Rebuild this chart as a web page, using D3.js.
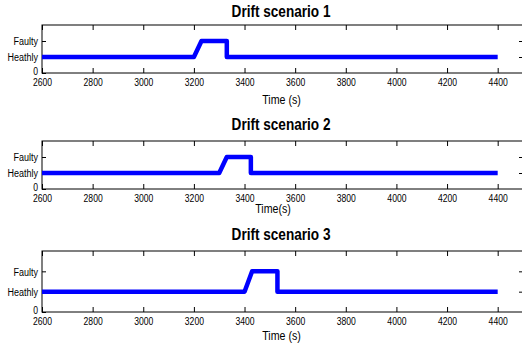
<!DOCTYPE html>
<html><head><meta charset="utf-8">
<script src="https://cdn.jsdelivr.net/npm/d3@7"></script>
<style>body{margin:0;background:#fff}svg{display:block}</style>
</head><body>
<svg id="c" width="522" height="354"></svg>
<script>
// ---- data ----
const titles = ["Drift scenario 1", "Drift scenario 2", "Drift scenario 3"];
const xLabels = ["Time (s)", "Time(s)", "Time (s)"];
const xTicks = [2600, 2800, 3000, 3200, 3400, 3600, 3800, 4000, 4200, 4400];
const yTickValues = [0, 1, 2];
const yTickLabels = ["0", "Heathly", "Faulty"];
const time1 = [2600, 3200, 3230, 3330, 3330, 4400];
const state1 = [1, 1, 2, 2, 1, 1];
const time2 = [2600, 3300, 3330, 3425, 3425, 4400];
const state2 = [1, 1, 2, 2, 1, 1];
const time3 = [2600, 3400, 3430, 3530, 3530, 4400];
const state3 = [1, 1, 2, 2, 1, 1];
const series = [[time1, state1], [time2, state2], [time3, state3]];

// ---- layout ----
const svg = d3.select("#c");
const left = 42, right = 523;
const panels = [
  {top: 25, bottom: 73, titleY: 17, labelY: 104, labelX: 281.5},
  {top: 141, bottom: 189, titleY: 130, labelY: 213, labelX: 273},
  {top: 251, bottom: 312, titleY: 240, labelY: 339.5, labelX: 281.5}
];
const SX = 0.82;
const font = "'Liberation Sans', Arial, sans-serif";

const x = d3.scaleLinear().domain([2600, 4500]).range([left, right]);

panels.forEach((p, i) => {
  const y = d3.scaleLinear().domain([0, 3]).range([p.bottom, p.top]);
  const g = svg.append("g");

  // frame
  g.append("rect").attr("x", left).attr("y", p.top)
    .attr("width", right - left).attr("height", p.bottom - p.top)
    .attr("fill", "none").attr("stroke", "#000").attr("stroke-width", 1);

  // bottom axis (inward ticks)
  const xb = g.append("g").attr("transform", `translate(0,${p.bottom})`)
    .call(d3.axisBottom(x).tickValues(xTicks).tickSize(-5).tickPadding(0).tickFormat(d3.format("d")));
  xb.select(".domain").remove();
  xb.selectAll("line").attr("stroke", "#000");
  xb.selectAll("text").attr("y", 13).attr("dy", null)
    .attr("transform", `scale(${SX},1)`)
    .attr("font-family", font).attr("font-size", 10.5).attr("fill", "#000");

  // top axis ticks
  const xt = g.append("g").attr("transform", `translate(0,${p.top})`)
    .call(d3.axisTop(x).tickValues(xTicks).tickSize(-5).tickFormat(""));
  xt.select(".domain").remove();
  xt.selectAll("line").attr("stroke", "#000");

  // left axis
  const yl = g.append("g").attr("transform", `translate(${left},0)`)
    .call(d3.axisLeft(y).tickValues(yTickValues).tickSize(-4)
      .tickFormat((d, k) => yTickLabels[k]));
  yl.select(".domain").remove();
  yl.selectAll("line").attr("stroke", "#000");
  yl.selectAll("text").attr("x", -4 / SX)
    .attr("dy", d => d === 0 ? "1.5px" : "0.34em")
    .attr("transform", `scale(${SX},1)`)
    .attr("font-family", font).attr("font-size", d => d === 0 ? 10.5 : 11).attr("fill", "#000");

  // right axis ticks
  const yr = g.append("g").attr("transform", `translate(${right},0)`)
    .call(d3.axisRight(y).tickValues(yTickValues.slice(1)).tickSize(-4).tickFormat(""));
  yr.select(".domain").remove();
  yr.selectAll("line").attr("stroke", "#000");

  // data line
  const [t, s] = series[i];
  const pts = t.map((v, k) => [v, s[k]]);
  g.append("path").datum(pts)
    .attr("d", d3.line().x(d => x(d[0])).y(d => y(d[1])))
    .attr("fill", "none").attr("stroke", "#0000ff")
    .attr("stroke-width", 4.5).attr("stroke-linejoin", "round");

  // title
  g.append("text").text(titles[i])
    .attr("transform", `translate(281,${p.titleY}) scale(0.85,1)`)
    .attr("text-anchor", "middle").attr("font-family", font)
    .attr("font-weight", "bold").attr("font-size", 16).attr("fill", "#000");

  // x label
  g.append("text").text(xLabels[i])
    .attr("transform", `translate(${p.labelX},${p.labelY}) scale(${SX},1)`)
    .attr("text-anchor", "middle").attr("font-family", font)
    .attr("font-size", 13).attr("fill", "#000");
});
</script>
</body></html>
